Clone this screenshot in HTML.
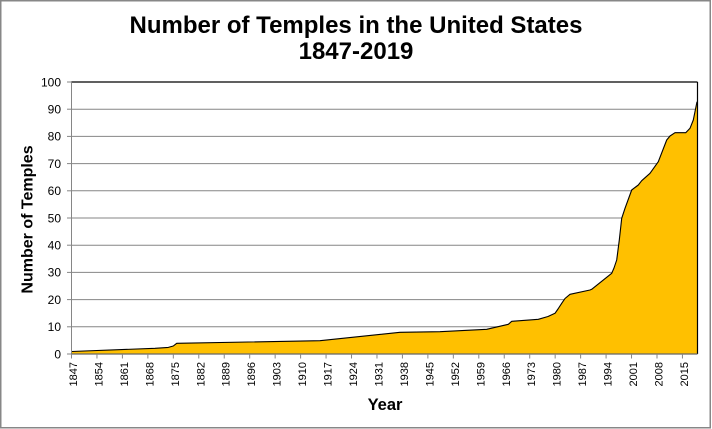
<!DOCTYPE html>
<html>
<head>
<meta charset="utf-8">
<style>
  html, body { margin:0; padding:0; background:#fff; }
  svg { display:block; }
  text { font-family: "Liberation Sans", Arial, sans-serif; fill:#000; }
</style>
</head>
<body>
<svg width="712" height="429" viewBox="0 0 712 429" xmlns="http://www.w3.org/2000/svg">
  <rect x="0" y="0" width="712" height="429" fill="#fff"/>
  <!-- outer chart border -->
  <rect x="0.75" y="0.75" width="709.5" height="427" fill="none" stroke="#878787" stroke-width="1.5"/>

  <!-- title -->
  <text x="356" y="33" font-size="24" font-weight="bold" text-anchor="middle">Number of Temples in the United States</text>
  <text x="356" y="59" font-size="24" font-weight="bold" text-anchor="middle">1847-2019</text>

  <!-- gridlines -->
  <g stroke="#868686" stroke-width="1">
    <line x1="71.5" y1="326.8" x2="697" y2="326.8"/>
    <line x1="71.5" y1="299.6" x2="697" y2="299.6"/>
    <line x1="71.5" y1="272.4" x2="697" y2="272.4"/>
    <line x1="71.5" y1="245.2" x2="697" y2="245.2"/>
    <line x1="71.5" y1="218" x2="697" y2="218"/>
    <line x1="71.5" y1="190.8" x2="697" y2="190.8"/>
    <line x1="71.5" y1="163.6" x2="697" y2="163.6"/>
    <line x1="71.5" y1="136.4" x2="697" y2="136.4"/>
    <line x1="71.5" y1="109.2" x2="697" y2="109.2"/>
  </g>

  <!-- area series -->
  <path fill="#FFC000" stroke="none" d="M71.5,354 L71.5,351.5 L155,348.3 L168.3,347.4 L173.3,346 L176.7,343.3 L320,340.7 L400,332.3 L440,331.7 L486.7,329.3 L508.3,324.3 L511.7,321.3 L538.3,319.3 L548,316.5 L555,313.3 L558,309 L561.7,303.3 L565,298.5 L570,294.3 L590,290 L591.7,289.3 L611.7,273.3 L614,268 L616.7,260 L618,250 L619.3,240 L621.7,218.3 L625,208.3 L631.7,190 L638.3,185 L641.7,180.7 L650,173.3 L658.3,161.7 L666.7,140 L670,136 L675,132.7 L685.7,132.7 L690,128.3 L693.3,120 L697,101.7 L697,354 Z"/>
  <polyline fill="none" stroke="#000" stroke-width="1.1" stroke-linejoin="round" points="71.5,351.5 155,348.3 168.3,347.4 173.3,346 176.7,343.3 320,340.7 400,332.3 440,331.7 486.7,329.3 508.3,324.3 511.7,321.3 538.3,319.3 548,316.5 555,313.3 558,309 561.7,303.3 565,298.5 570,294.3 590,290 591.7,289.3 611.7,273.3 614,268 616.7,260 618,250 619.3,240 621.7,218.3 625,208.3 631.7,190 638.3,185 641.7,180.7 650,173.3 658.3,161.7 666.7,140 670,136 675,132.7 685.7,132.7 690,128.3 693.3,120 697,101.7"/>

  <!-- plot border top/right -->
  <line x1="71.5" y1="82" x2="697.5" y2="82" stroke="#000" stroke-width="1.2"/>
  <line x1="697.5" y1="82" x2="697.5" y2="354" stroke="#000" stroke-width="1.2"/>

  <!-- axes -->
  <line x1="71.5" y1="82" x2="71.5" y2="354" stroke="#868686" stroke-width="1"/>
  <line x1="71.5" y1="354" x2="697.5" y2="354" stroke="#666" stroke-width="1.2"/>

  <!-- y ticks -->
  <g stroke="#868686" stroke-width="1">
    <line x1="67" y1="354" x2="71.5" y2="354"/>
    <line x1="67" y1="326.8" x2="71.5" y2="326.8"/>
    <line x1="67" y1="299.6" x2="71.5" y2="299.6"/>
    <line x1="67" y1="272.4" x2="71.5" y2="272.4"/>
    <line x1="67" y1="245.2" x2="71.5" y2="245.2"/>
    <line x1="67" y1="218" x2="71.5" y2="218"/>
    <line x1="67" y1="190.8" x2="71.5" y2="190.8"/>
    <line x1="67" y1="163.6" x2="71.5" y2="163.6"/>
    <line x1="67" y1="136.4" x2="71.5" y2="136.4"/>
    <line x1="67" y1="109.2" x2="71.5" y2="109.2"/>
    <line x1="67" y1="82" x2="71.5" y2="82"/>
  </g>
  <g font-size="12" text-anchor="end">
    <text x="61" y="358.3">0</text>
    <text x="61" y="331.1">10</text>
    <text x="61" y="303.9">20</text>
    <text x="61" y="276.7">30</text>
    <text x="61" y="249.5">40</text>
    <text x="61" y="222.3">50</text>
    <text x="61" y="195.1">60</text>
    <text x="61" y="167.9">70</text>
    <text x="61" y="140.7">80</text>
    <text x="61" y="113.5">90</text>
    <text x="61" y="86.3">100</text>
  </g>

  <!-- x ticks -->
  <g stroke="#868686" stroke-width="1">
    <line x1="71.5" y1="354" x2="71.5" y2="358.5"/>
    <line x1="96.96" y1="354" x2="96.96" y2="358.5"/>
    <line x1="122.41" y1="354" x2="122.41" y2="358.5"/>
    <line x1="147.87" y1="354" x2="147.87" y2="358.5"/>
    <line x1="173.32" y1="354" x2="173.32" y2="358.5"/>
    <line x1="198.78" y1="354" x2="198.78" y2="358.5"/>
    <line x1="224.24" y1="354" x2="224.24" y2="358.5"/>
    <line x1="249.69" y1="354" x2="249.69" y2="358.5"/>
    <line x1="275.15" y1="354" x2="275.15" y2="358.5"/>
    <line x1="300.6" y1="354" x2="300.6" y2="358.5"/>
    <line x1="326.06" y1="354" x2="326.06" y2="358.5"/>
    <line x1="351.52" y1="354" x2="351.52" y2="358.5"/>
    <line x1="376.97" y1="354" x2="376.97" y2="358.5"/>
    <line x1="402.43" y1="354" x2="402.43" y2="358.5"/>
    <line x1="427.88" y1="354" x2="427.88" y2="358.5"/>
    <line x1="453.34" y1="354" x2="453.34" y2="358.5"/>
    <line x1="478.8" y1="354" x2="478.8" y2="358.5"/>
    <line x1="504.25" y1="354" x2="504.25" y2="358.5"/>
    <line x1="529.71" y1="354" x2="529.71" y2="358.5"/>
    <line x1="555.16" y1="354" x2="555.16" y2="358.5"/>
    <line x1="580.62" y1="354" x2="580.62" y2="358.5"/>
    <line x1="606.08" y1="354" x2="606.08" y2="358.5"/>
    <line x1="631.53" y1="354" x2="631.53" y2="358.5"/>
    <line x1="656.99" y1="354" x2="656.99" y2="358.5"/>
    <line x1="682.44" y1="354" x2="682.44" y2="358.5"/>
  </g>
  <g font-size="11" text-anchor="end">
    <text transform="translate(77,362) rotate(-90)">1847</text>
    <text transform="translate(102.46,362) rotate(-90)">1854</text>
    <text transform="translate(127.91,362) rotate(-90)">1861</text>
    <text transform="translate(153.37,362) rotate(-90)">1868</text>
    <text transform="translate(178.82,362) rotate(-90)">1875</text>
    <text transform="translate(204.28,362) rotate(-90)">1882</text>
    <text transform="translate(229.74,362) rotate(-90)">1889</text>
    <text transform="translate(255.19,362) rotate(-90)">1896</text>
    <text transform="translate(280.65,362) rotate(-90)">1903</text>
    <text transform="translate(306.1,362) rotate(-90)">1910</text>
    <text transform="translate(331.56,362) rotate(-90)">1917</text>
    <text transform="translate(357.02,362) rotate(-90)">1924</text>
    <text transform="translate(382.47,362) rotate(-90)">1931</text>
    <text transform="translate(407.93,362) rotate(-90)">1938</text>
    <text transform="translate(433.38,362) rotate(-90)">1945</text>
    <text transform="translate(458.84,362) rotate(-90)">1952</text>
    <text transform="translate(484.3,362) rotate(-90)">1959</text>
    <text transform="translate(509.75,362) rotate(-90)">1966</text>
    <text transform="translate(535.21,362) rotate(-90)">1973</text>
    <text transform="translate(560.66,362) rotate(-90)">1980</text>
    <text transform="translate(586.12,362) rotate(-90)">1987</text>
    <text transform="translate(611.58,362) rotate(-90)">1994</text>
    <text transform="translate(637.03,362) rotate(-90)">2001</text>
    <text transform="translate(662.49,362) rotate(-90)">2008</text>
    <text transform="translate(687.94,362) rotate(-90)">2015</text>
  </g>

  <!-- axis titles -->
  <text x="385" y="410" font-size="16.5" font-weight="bold" text-anchor="middle">Year</text>
  <text transform="translate(32.5,219.5) rotate(-90)" font-size="16" font-weight="bold" text-anchor="middle">Number of Temples</text>
</svg>
</body>
</html>
